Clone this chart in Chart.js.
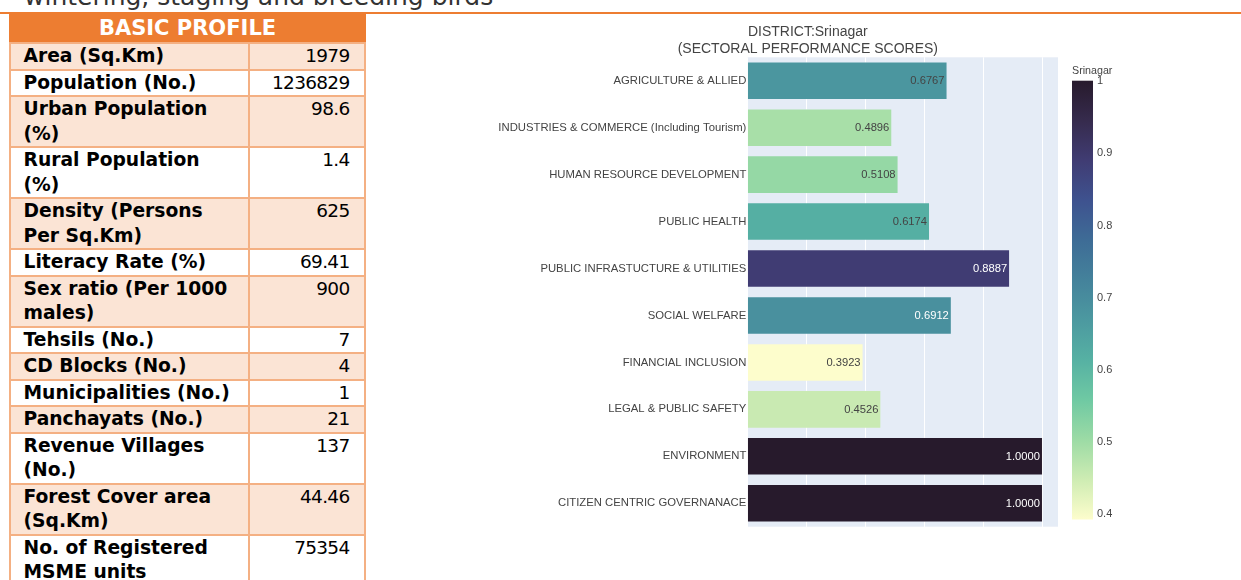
<!DOCTYPE html>
<html>
<head>
<meta charset="utf-8">
<title>District Srinagar profile</title>
<script src="https://cdn.jsdelivr.net/npm/chart.js@4"></script>
<style>
  html, body { margin: 0; padding: 0; background: #fff; overflow: hidden; }
  body { width: 1241px; height: 580px; position: relative; }
  #lead { position: absolute; left: 24px; top: -15.7px; font: 25px/25px "DejaVu Sans", sans-serif; color: #333; white-space: nowrap; }
  #rule { position: absolute; left: 0; top: 12px; width: 1241px; height: 1.5px; background: #ED7D31; }
  #profile { position: absolute; left: 9px; top: 12px; width: 355px; border-collapse: collapse; table-layout: fixed;
             font-family: "DejaVu Sans", sans-serif; color: #000; }
  #profile td { border: 2px solid #F4B083; padding: 0; vertical-align: top; line-height: 24.5px; white-space: pre; }
  #profile td.lbl { font-weight: bold; font-size: 18.7px; padding-left: 12.5px; }
  #profile td.val { font-size: 18.5px; text-align: right; padding-right: 14.5px; letter-spacing: -0.7px; }
  #profile tr.alt td { background: #FBE4D5; }
  #profile th { background: #ED7D31; color: #fff; font-weight: bold; font-size: 21px; line-height: 28px; padding: 0;
                border: 2px solid #ED7D31; border-bottom-color: #F4B083; }
  #chart { position: absolute; left: 370px; top: 14px; }
</style>
</head>
<body>
<div id="rule"></div>
<div id="lead">wintering, staging and breeding birds</div>
<table id="profile">
  <colgroup><col style="width:239px"><col style="width:116px"></colgroup>
  <thead><tr><th colspan="2">BASIC PROFILE</th></tr></thead>
  <tbody id="profileBody"></tbody>
</table>
<canvas id="chart" width="871" height="566"></canvas>
<script>
// --- basic profile table ---------------------------------------------
const profileFields = ['Area (Sq.Km)', 'Population (No.)', 'Urban Population\n(%)', 'Rural Population\n(%)',
  'Density (Persons\nPer Sq.Km)', 'Literacy Rate (%)', 'Sex ratio (Per 1000\nmales)', 'Tehsils (No.)',
  'CD Blocks (No.)', 'Municipalities (No.)', 'Panchayats (No.)', 'Revenue Villages\n(No.)',
  'Forest Cover area\n(Sq.Km)', 'No. of Registered\nMSME units'];
const profileValues = ['1979', '1236829', '98.6', '1.4', '625', '69.41', '900', '7', '4', '1', '21', '137', '44.46', '75354'];

// --- sectoral scores ---------------------------------------------------
const sectors = ['AGRICULTURE & ALLIED', 'INDUSTRIES & COMMERCE (Including Tourism)', 'HUMAN RESOURCE DEVELOPMENT',
  'PUBLIC HEALTH', 'PUBLIC INFRASTUCTURE & UTILITIES', 'SOCIAL WELFARE', 'FINANCIAL INCLUSION',
  'LEGAL & PUBLIC SAFETY', 'ENVIRONMENT', 'CITIZEN CENTRIC GOVERNANACE'];
const scores = [0.6767, 0.4896, 0.5108, 0.6174, 0.8887, 0.6912, 0.3923, 0.4526, 1.0000, 1.0000];
const gridTicks = [0, 0.2, 0.4, 0.6, 0.8, 1.0];
const colorbarTicks = [0.4, 0.5, 0.6, 0.7, 0.8, 0.9, 1];
const district = 'Srinagar';
const titleLines = ['DISTRICT:' + district, '(SECTORAL PERFORMANCE SCORES)'];

// "deep" sequential scale, light -> dark
const deepScale = [[253,253,204],[206,236,179],[156,219,165],[111,201,163],[86,177,163],[76,153,160],
  [68,130,155],[62,108,150],[62,82,143],[64,60,115],[54,43,77],[39,26,44]];

// build the table rows
let body = document.getElementById('profileBody');
profileFields.forEach(function(field, i){
  let tr = document.createElement('tr');
  if (i % 2 === 0) tr.className = 'alt';
  let a = document.createElement('td'); a.className = 'lbl'; a.textContent = field;
  let b = document.createElement('td'); b.className = 'val'; b.textContent = profileValues[i];
  tr.appendChild(a); tr.appendChild(b);
  body.appendChild(tr);
});

const cmin = Math.min(...scores), cmax = Math.max(...scores);

function scaleColor(v){
  let t = (v - cmin) / (cmax - cmin);
  t = Math.max(0, Math.min(1, t));
  let pos = t * (deepScale.length - 1);
  let i = Math.min(Math.floor(pos), deepScale.length - 2);
  let f = pos - i;
  let c0 = deepScale[i], c1 = deepScale[i + 1];
  return c0.map((c, k) => c + (c1[k] - c) * f);
}
const rgb = c => 'rgb(' + c.map(Math.round).join(',') + ')';
const barColors = scores.map(v => rgb(scaleColor(v)));
// text inside the bar: dark on light fills, white on dark fills
const textColors = scores.map(function(v){
  let c = scaleColor(v);
  let bright = (c[0] * 299 + c[1] * 587 + c[2] * 114) / 1000;
  return bright >= 128 ? '#444' : '#fff';
});

const FONT = "'Liberation Sans', Arial, sans-serif";

// plot background + two line title
const plotBg = {
  id: 'plotBg',
  beforeDraw(chart){
    const {ctx, chartArea: a} = chart;
    ctx.save();
    ctx.fillStyle = '#E5ECF6';
    ctx.fillRect(a.left, a.top, a.right - a.left, a.bottom - a.top);
    ctx.fillStyle = '#444';
    ctx.font = '14px ' + FONT;
    ctx.textAlign = 'center';
    ctx.textBaseline = 'middle';
    titleLines.forEach((t, i) => ctx.fillText(t, a.left + 60.5, a.top - 25.6 + i * 17.3));
    ctx.restore();
  }
};

// value written at the end of each bar
const barText = {
  id: 'barText',
  afterDatasetsDraw(chart){
    const ctx = chart.ctx;
    const meta = chart.getDatasetMeta(0);
    ctx.save();
    ctx.font = '11.2px ' + FONT;
    ctx.textAlign = 'right';
    ctx.textBaseline = 'middle';
    meta.data.forEach(function(bar, i){
      ctx.fillStyle = textColors[i];
      ctx.fillText(scores[i].toFixed(4), bar.x - 2.5, bar.y + 0.5);
    });
    ctx.restore();
  }
};

// colour bar on the right
const colorBar = {
  id: 'colorBar',
  afterDraw(chart){
    const ctx = chart.ctx;
    const a = chart.chartArea;
    const x0 = a.right + 14, w = 21;
    const top = a.top + 23.4, bottom = a.bottom - 7.2;
    const yFor = v => bottom - (v - cmin) / (cmax - cmin) * (bottom - top);
    ctx.save();
    let g = ctx.createLinearGradient(0, bottom, 0, top);
    deepScale.forEach((c, i) => g.addColorStop(i / (deepScale.length - 1), rgb(c)));
    ctx.fillStyle = g;
    ctx.fillRect(x0, top, w, bottom - top);
    ctx.fillStyle = '#444';
    ctx.textBaseline = 'middle';
    ctx.textAlign = 'left';
    ctx.font = '10.7px ' + FONT;
    ctx.fillText(district, x0, top - 9.5);
    ctx.font = '11px ' + FONT;
    colorbarTicks.forEach(v => ctx.fillText(String(v), x0 + w + 4, yFor(v) + 0.5));
    ctx.restore();
  }
};

new Chart(document.getElementById('chart'), {
  type: 'bar',
  data: {
    labels: sectors,
    datasets: [{
      data: scores,
      backgroundColor: barColors,
      borderColor: '#E5ECF6',
      borderWidth: 0.5,
      categoryPercentage: 0.8,
      barPercentage: 1
    }]
  },
  options: {
    indexAxis: 'y',
    responsive: false,
    animation: false,
    devicePixelRatio: 1,
    layout: { padding: { left: 0, right: 183, top: 43.3, bottom: 53.3 } },
    plugins: {
      legend: { display: false },
      tooltip: { enabled: false },
      title: { display: false }
    },
    scales: {
      x: {
        min: 0,
        max: 1.0526,
        ticks: { display: false },
        grid: { color: '#fff', lineWidth: 1, drawTicks: false },
        border: { display: false },
        afterBuildTicks: s => { s.ticks = gridTicks.map(v => ({ value: v })); },
        afterFit: s => { s.height = 0; }
      },
      y: {
        ticks: { color: '#444', font: { family: FONT, size: 11.3 }, padding: 1, autoSkip: false },
        grid: { display: false, drawTicks: false },
        border: { display: false },
        afterFit: s => { s.width = 377.3; }
      }
    }
  },
  plugins: [plotBg, barText, colorBar]
});
</script>
</body>
</html>
